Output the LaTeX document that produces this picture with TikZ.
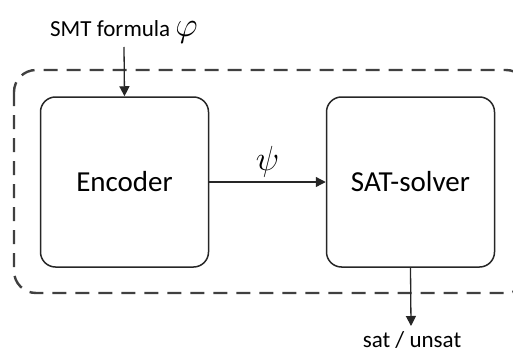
\documentclass[tikz,border=0pt]{standalone}
\usepackage{fontspec}
\setmainfont{Carlito}
\usetikzlibrary{arrows.meta}
\definecolor{ink}{HTML}{262626}
\definecolor{dashgray}{HTML}{404040}
% enlarged italic Greek symbols for the labels
\newcommand{\bigsym}[1]{\scalebox{1.4}{$#1$}}
\begin{document}
\begin{tikzpicture}[x=1pt,y=-1pt,
  block/.style={draw=ink,line width=1.5pt,rounded corners=15pt,minimum width=168pt,minimum height=170pt,inner sep=0pt,font=\fontsize{29}{34}\selectfont},
  flow/.style={draw=ink,line width=1.3pt,-{Triangle[length=10pt,width=10pt]}},
  lbl/.style={inner sep=0pt,font=\fontsize{23}{27}\selectfont},
  frame/.style={draw=dashgray,line width=2.4pt,dash pattern=on 14pt off 9pt,rounded corners=22pt}]
\useasboundingbox (0,0) rectangle (513,353);
% enclosing dashed frame (runs past the right border)
\draw[frame] (14,70) rectangle (528,293);
% the two processing blocks
\node[block] (enc) at (124.5,182) {Encoder};
\node[block] (sat) at (410.5,182) {SAT-solver};
% input and output labels
\node[lbl,anchor=base] (in) at (124,37) {SMT formula \bigsym{\varphi}};
\node[lbl,anchor=base] (out) at (412,347) {sat / unsat};
\coordinate (inStart) at (124,47);
\coordinate (outEnd) at (411,326);
\draw[flow] (inStart) -- (enc.north);
\draw[flow] (enc.east) -- node[lbl,above=4pt] {\bigsym{\psi}} (sat.west);
\draw[flow] (sat.south) -- (outEnd);
\end{tikzpicture}
\end{document}
